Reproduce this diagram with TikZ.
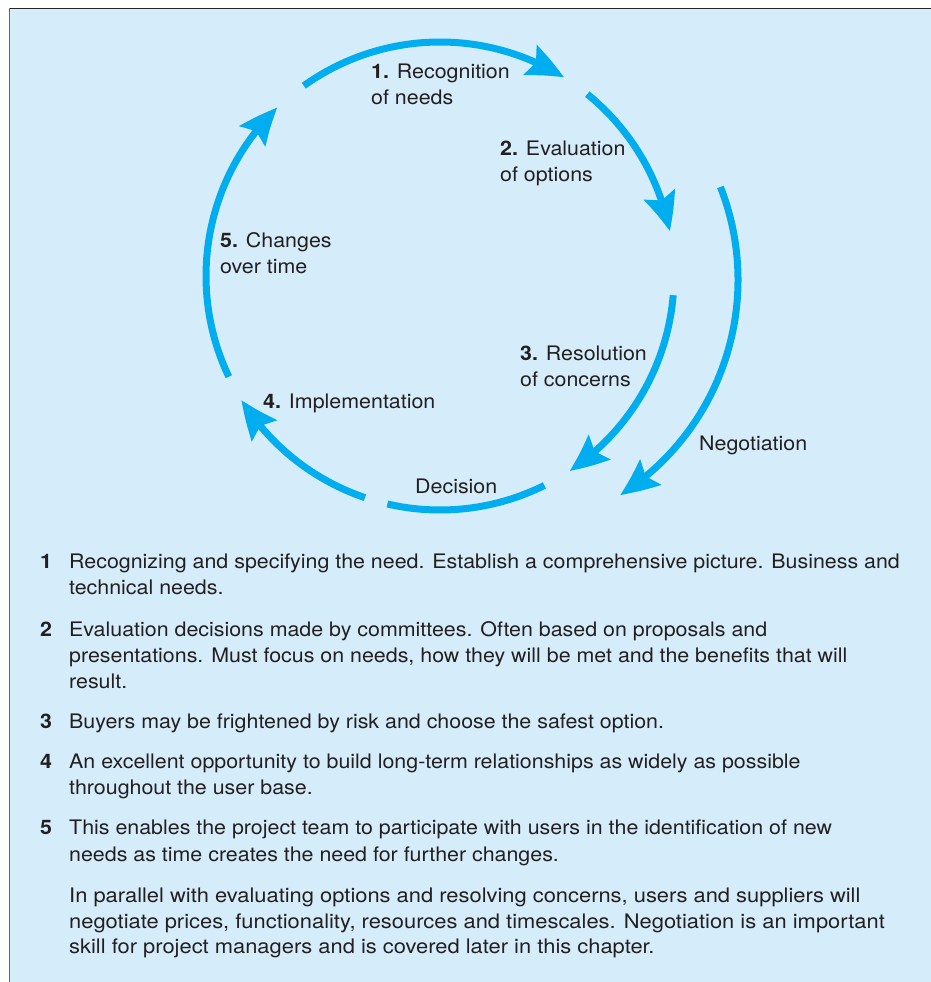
\documentclass[tikz,border=0pt]{standalone}
\usepackage{fontspec}
\setmainfont[FakeStretch=1.07]{TeX Gyre Heros}
\newfontfamily\parafont[FakeStretch=1.095]{TeX Gyre Heros}
\usetikzlibrary{arrows.meta,bending}
\definecolor{bgblue}{RGB}{213,236,250}
\definecolor{cyc}{RGB}{0,174,239}
\definecolor{ink}{RGB}{35,31,32}
\begin{document}
\begin{tikzpicture}[x=1pt,y=1pt,
  cycarrow/.style={draw=cyc,line width=7pt,-{Stealth[length=38pt,width=32pt,inset=6pt,bend]}},
  cycline/.style={draw=cyc,line width=7pt},
  lbl/.style={anchor=base west,inner sep=0pt,text=ink,font=\fontsize{20}{26}\selectfont},
  body/.style={anchor=base west,inner sep=0pt,text=ink,font=\fontsize{20}{26}\selectfont},
  num/.style={anchor=base west,inner sep=0pt,text=ink,font=\fontsize{20}{26}\selectfont\bfseries},
  para/.style={anchor=base west,inner sep=0pt,text=ink,font=\fontsize{20}{26}\selectfont\parafont}]
\useasboundingbox (0,0) rectangle (931,-982);
\fill[white] (0,0) rectangle (931,-982);
\fill[bgblue] (10,-9) rectangle (931,-982);
\draw[line width=1.6pt,draw=black!85] (9.5,-8.5) -- (931,-8.5);
\draw[line width=1.6pt,draw=black!60] (9.5,-8.5) -- (9.5,-982);
% centres
\coordinate (C) at (440,-276);
\coordinate (N) at (483,-280);
% cycle arcs
\draw[cycarrow] ([shift={(125.6:234)}]C) arc[start angle=125.6,end angle=58,radius=234];
\draw[cycarrow] ([shift={(51:234)}]C) arc[start angle=51,end angle=11,radius=234];
\draw[cycarrow] ([shift={(-4.7:234)}]C) arc[start angle=-4.7,end angle=-56.4,radius=234];
\draw[cycline] ([shift={(-63.5:234)}]C) arc[start angle=-63.5,end angle=-103,radius=234];
\draw[cycarrow] ([shift={(-108.7:234)}]C) arc[start angle=-108.7,end angle=-148,radius=234];
\draw[cycarrow] ([shift={(205.5:234)}]C) arc[start angle=205.5,end angle=134,radius=234];
\draw[cycarrow] ([shift={(21.4:255)}]N) arc[start angle=21.4,end angle=-57.5,radius=255];
% labels
\node[lbl] (s1a) at (371,-78) {\textbf{1.} Recognition};
\node[lbl] (s1b) at (371,-104) {of needs};
\node[lbl] (s2a) at (500,-155) {\textbf{2.} Evaluation};
\node[lbl] (s2b) at (500,-181) {of options};
\node[lbl] (s5a) at (220,-247) {\textbf{5.} Changes};
\node[lbl] (s5b) at (220,-273) {over time};
\node[lbl] (s3a) at (520,-360) {\textbf{3.} Resolution};
\node[lbl] (s3b) at (520,-386) {of concerns};
\node[lbl] (s4) at (263,-408) {\textbf{4.} Implementation};
\node[lbl] (dec) at (415,-493) {Decision};
\node[lbl] (neg) at (699,-450) {Negotiation};
% list
\node[num] (n1) at (40,-568) {1};
\node[body] (t1a) at (69,-568) {Recognizing and specifying the need. Establish a comprehensive picture. Business and};
\node[body] (t1b) at (69,-594) {technical needs.};
\node[num] (n2) at (40,-636) {2};
\node[body] (t2a) at (69,-636) {Evaluation decisions made by committees. Often based on proposals and};
\node[body] (t2b) at (69,-662) {presentations. Must focus on needs, how they will be met and the benefits that will};
\node[body] (t2c) at (69,-688) {result.};
\node[num] (n3) at (40,-728) {3};
\node[body] (t3a) at (69,-728) {Buyers may be frightened by risk and choose the safest option.};
\node[num] (n4) at (40,-768) {4};
\node[body] (t4a) at (69,-768) {An excellent opportunity to build long-term relationships as widely as possible};
\node[body] (t4b) at (69,-794) {throughout the user base.};
\node[num] (n5) at (40,-834) {5};
\node[body] (t5a) at (69,-834) {This enables the project team to participate with users in the identification of new};
\node[body] (t5b) at (69,-861) {needs as time creates the need for further changes.};
\node[para] (p1) at (69,-902) {In parallel with evaluating options and resolving concerns, users and suppliers will};
\node[para] (p2) at (69,-928) {negotiate prices, functionality, resources and timescales. Negotiation is an important};
\node[para] (p3) at (69,-953) {skill for project managers and is covered later in this chapter.};
\end{tikzpicture}
\end{document}
